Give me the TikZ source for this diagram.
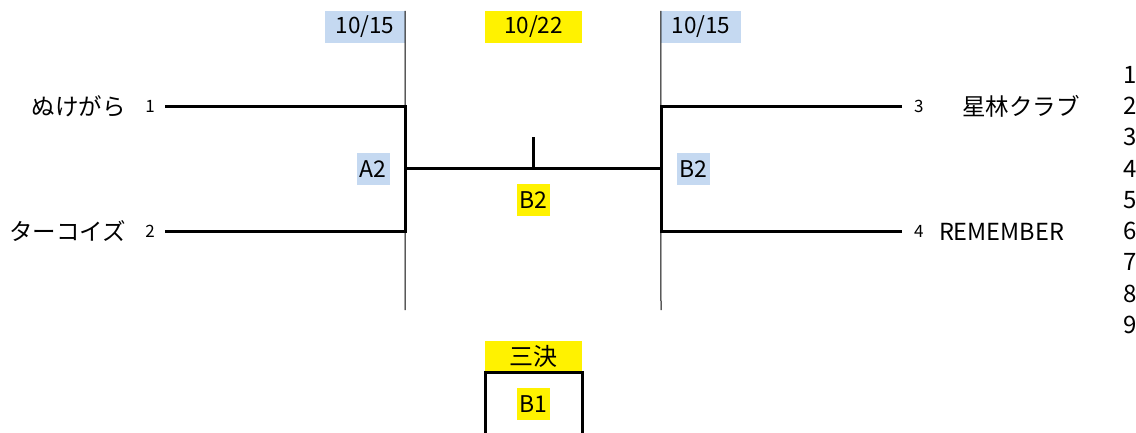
\documentclass[tikz,border=0pt]{standalone}
\usepackage{fontspec}
\setmainfont{Noto Sans CJK JP}
\usepackage{tikz}
\usetikzlibrary{positioning}
\definecolor{dateblue}{RGB}{197,217,241}

\begin{document}
\begin{tikzpicture}[
		x=1pt, y=-1pt,
		datebox/.style={fill=dateblue,	minimum width=80pt,	minimum height=32pt,	inner sep=0pt,	font=\fontsize{22.5}{26}\selectfont},
		daybox/.style ={fill=yellow,		minimum width=97pt,	minimum height=32pt,	inner sep=0pt,	font=\fontsize{22.5}{26}\selectfont},
		match/.style  ={fill=dateblue,	minimum width=33pt,	minimum height=32pt,	inner sep=0pt,	font=\fontsize{23}{27}\selectfont},
		ymatch/.style ={match,					fill=yellow},
		seedL/.style  ={anchor=east,	inner xsep=10pt,	inner ysep=0pt,	font=\fontsize{17}{20}\selectfont},
		seedR/.style  ={anchor=west,	inner xsep=12pt,	inner ysep=0pt,	font=\fontsize{17}{20}\selectfont},
		team/.style   ={inner sep=0pt,	font=\fontsize{23.5}{28}\selectfont},
		rank/.style   ={anchor=east,	inner sep=0pt,	font=\fontsize{24}{28}\selectfont},
		bracket/.style={line width=3pt},
		rule/.style   ={line width=1pt},
	]

	\useasboundingbox (0,0) rectangle (1136,432);

	\newcommand\lcol{405}
	\newcommand{\rcol}{661}
	\newcommand{\mcol}{533.5}
	\newcommand{\rowa}{106.5}
	\newcommand{\rowb}{231.5}
	\newcommand{\rowm}{168}

	% dates
	\node [datebox] (dateL) at (\lcol-40,27) {10/15};
	\node [daybox] (dateM) at (\mcol,27) {10/22};
	\node [datebox] (dateR) at (\rcol+40,27) {10/15};

	% teams
	\node [seedL] (seed1) at (165,\rowa) {1};
	\node [seedL] (seed2) at (165,\rowb) {2};
	\node [seedR] (seed3) at (902,\rowa) {3};
	\node [seedR] (seed4) at (902,\rowb) {4};
	\node [team, left=9pt of seed1] (team1) {ぬけがら};
	\node [team, left=9pt of seed2] (team2) {ターコイズ};
	\node [team, right=26pt of seed3] (team3) {星林クラブ};
	\node [team, right=3pt of seed4] (team4) {REMEMBER};

	% match labels
	\node [match] (matchA2) at (373,169) {A2};
	\node [match] (matchB2) at (693.5,169) {B2};
	\node [ymatch] (finalB2) at (\mcol,200) {B2};

	% third place
	\node [daybox, minimum height=30pt, font=\fontsize{24}{28}\selectfont] (third) at (\mcol,356) {三決};
	\node [ymatch] (thirdB1) at (\mcol,404) {B1};

	% ranks
	\foreach \n in {1,...,9}
		\node [rank] (rank\n) at (1137,43.5+31.25*\n) {\n};

	% interconnections
	\coordinate (jL1) at (\lcol,\rowa);
	\coordinate (jL2) at (\lcol,\rowb);
	\coordinate (jLm) at (\lcol,\rowm);
	\coordinate (jR1) at (\rcol,\rowa);
	\coordinate (jR2) at (\rcol,\rowb);
	\coordinate (jRm) at (\rcol,\rowm);
	\coordinate (tick) at (\mcol,137);
	\coordinate (baseL) at (\lcol,310);
	\coordinate (baseR) at (\rcol,310);
	\coordinate (thirdL) at (485,436);
	\coordinate (thirdR) at (582,436);

	\draw [rule] (dateL.north east) -- (baseL);
	\draw [rule] (dateR.north west) -- (baseR);

	\draw [bracket] (seed1.east) -- (jL1) -- (jL2) -- (seed2.east);
	\draw [bracket] (seed3.west) -- (jR1) -- (jR2) -- (seed4.west);
	\draw [bracket] (jLm) -- (jRm);
	\draw [bracket] (tick) -- (tick |- jLm);

	\draw [bracket] (thirdL) |- ([yshift=-1.5pt]third.south) -| (thirdR);

\end{tikzpicture}
\end{document}
